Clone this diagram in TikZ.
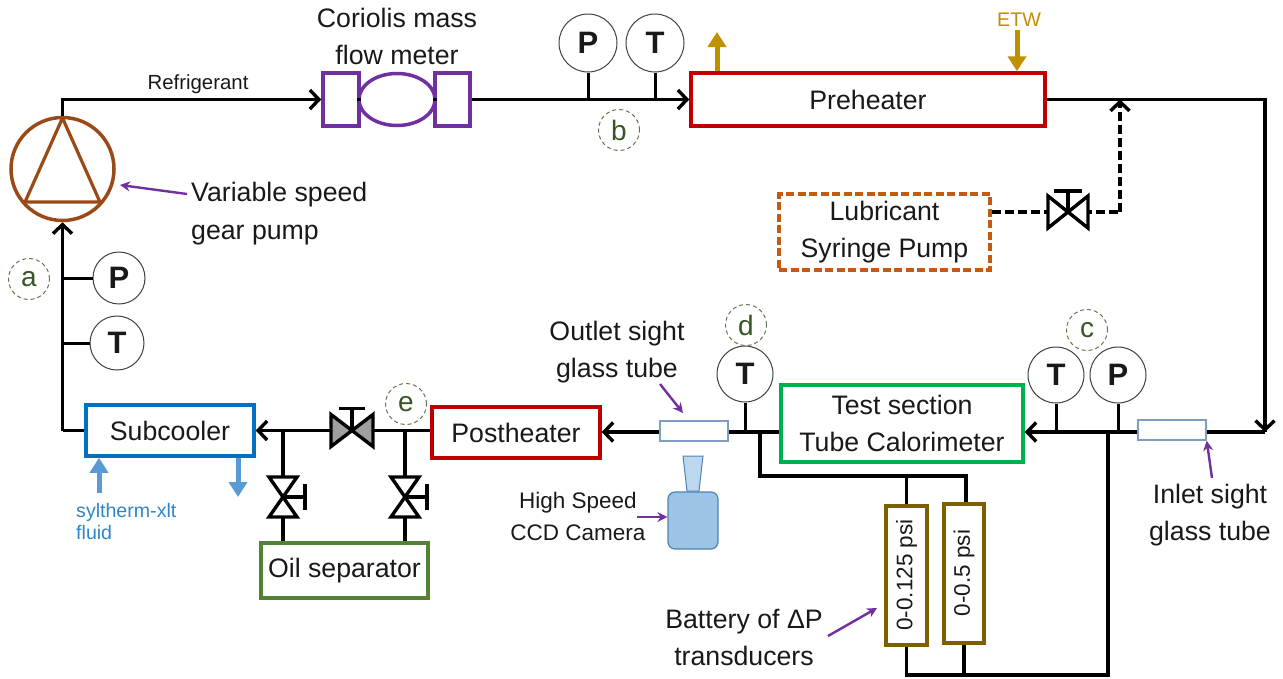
\documentclass[tikz,border=0pt]{standalone}
\usepackage{fontspec}
\setmainfont{Liberation Sans}
\usetikzlibrary{arrows.meta,calc,shapes.geometric}
\definecolor{pumpc}{HTML}{9A4A16}
\definecolor{purp}{HTML}{7030A0}
\definecolor{heat}{HTML}{C00000}
\definecolor{gold}{HTML}{BF9000}
\definecolor{lub}{HTML}{C55A11}
\definecolor{tsg}{HTML}{00B050}
\definecolor{oilg}{HTML}{548235}
\definecolor{subb}{HTML}{0070C0}
\definecolor{flu}{HTML}{5B9BD5}
\definecolor{flt}{HTML}{2E86C8}
\definecolor{brn}{HTML}{7F6000}
\definecolor{tag}{HTML}{375623}
\definecolor{tubeb}{HTML}{7F9DBF}
\tikzset{
 every node/.style={font=\fontsize{26.7}{28}\selectfont,text=black!90,align=center,inner sep=0pt},
 bx/.style={draw,line width=3.5pt,fill=white,minimum width=#1,rectangle},
 pipe/.style={line width=3.8pt,black,line join=miter},
 stem/.style={line width=3pt,black},
 arr/.style={pipe,-{Straight Barb[length=9pt,width=19pt,line width=3.4pt]}},
 darr/.style={arr,dash pattern=on 9pt off 4pt},
 dpipe/.style={pipe,dash pattern=on 9pt off 4pt},
 call/.style={line width=2.4pt,purp,-{Stealth[length=10pt,width=10pt]}},
 fat/.style={line width=5pt,-{Triangle[length=15pt,width=18pt]}},
 gauge/.style={circle,draw=black!75,line width=1pt,fill=white,minimum size=#1,font=\fontsize{31}{32}\selectfont\bfseries},
 tagc/.style={circle,draw=tag!80,dash pattern=on 4pt off 3pt,line width=1pt,minimum size=41pt,text=tag,font=\fontsize{28}{28}\selectfont},
 sight/.style={rectangle,draw=tubeb,line width=1.5pt,fill=white,minimum width=68pt,minimum height=20pt},
 vlv/.style={line width=3.4pt,black,line join=miter},
}
\begin{document}
\begin{tikzpicture}[x=1pt,y=-1pt]
\useasboundingbox (0,0) rectangle (1283,678);
\coordinate (pumpTurn) at (62.5,99.5);
\coordinate (upTurn) at (1265,99.5);
\coordinate (rightCorner) at (1265,432);
\coordinate (lubJoin) at (1120,99.5);
\coordinate (lubCorner) at (1120,212);
\coordinate (v1) at (1068,212);
\coordinate (v2) at (352,430.5);
\coordinate (v3) at (283,497);
\coordinate (v4) at (405,497);
\coordinate (subTurn) at (62.5,430.5);
\coordinate (j1) at (283,430.5);
\coordinate (j2) at (405,430.5);
\coordinate (jb) at (1108,432);
\coordinate (jbb) at (1108,675);
\coordinate (jt) at (760,432);
\coordinate (jtt) at (760,476);
\coordinate (jt2) at (966,476);

% components
\node[circle,draw=pumpc,line width=3.5pt,minimum size=103pt,fill=white] (pump) at (62.5,169) {};
\draw[pumpc,line width=3.2pt,line join=round] (62.5,118) -- (25,202) -- (100,202) -- cycle;
\node[bx=36pt,draw=purp,minimum height=53pt] (cl) at (341,99.5) {};
\node[bx=35pt,draw=purp,minimum height=53pt] (cr) at (452.5,99.5) {};
\node[ellipse,draw=purp,line width=3.5pt,minimum width=76pt,minimum height=52pt] (cm) at (397,99.5) {};
\node[bx=354pt,draw=heat,minimum height=53pt] (pre) at (868,99.5) {Preheater};
\node[bx=211pt,draw=lub,dash pattern=on 8pt off 3.5pt,minimum height=76pt] (lubp) at (884.5,232) {Lubricant\\[9pt]Syringe Pump};
\node[bx=242pt,draw=tsg,minimum height=77pt] (ts) at (902,423.5) {Test section\\[9pt]Tube Calorimeter};
\node[bx=168pt,draw=heat,minimum height=51pt] (post) at (516,432.5) {Postheater};
\node[bx=168pt,draw=subb,minimum height=51pt] (sub) at (170,430.5) {Subcooler};
\node[bx=167pt,draw=oilg,minimum height=55pt] (oil) at (344.5,570.5) {Oil separator};
\node[bx=41pt,draw=brn,minimum height=139pt] (d1) at (906.5,575.5) {};
\node[bx=40pt,draw=brn,minimum height=139pt] (d2) at (964,573.5) {};
\node[rotate=90,font=\fontsize{22.5}{22}\selectfont] (d1t) at (906.5,575) {0-0.125 psi};
\node[rotate=90,font=\fontsize{22.5}{22}\selectfont] (d2t) at (964,573) {0-0.5 psi};

% gauges
\node[gauge=58pt] (Pb) at (588,43) {P};
\node[gauge=58pt] (Tb) at (655,43) {T};
\node[gauge=52pt] (Pa) at (119,278) {P};
\node[gauge=54pt] (Ta) at (117,343) {T};
\node[gauge=56pt] (Td) at (745,374) {T};
\node[gauge=56pt] (Tc) at (1056,375) {T};
\node[gauge=56pt] (Pc) at (1118,375) {P};
\node[tagc] (ta) at (29,279) {a};
\node[tagc] (tb) at (619,130) {b};
\node[tagc] (tc) at (1087,330) {c};
\node[tagc] (td) at (746,325) {d};
\node[tagc] (te) at (406,404) {e};

% connectors
\draw[arr] (pump.north) -- (pumpTurn) -- (cl.west);
\draw[arr] (cr.east) -- (pre.west);
\draw[pipe] (cl.east) -- (cm.west) (cm.east) -- (cr.west);
\draw[pipe] (pre.east) -- (upTurn) -- (rightCorner);
\draw[arr] (upTurn) -- (rightCorner);
\draw[arr] (rightCorner) -- (ts.east |- rightCorner);
\draw[arr] (ts.west |- rightCorner) -- (post.east |- rightCorner);
\draw[pipe] (post.west |- v2) -- (v2);
\draw[arr] (v2) -- (sub.east |- v2);
\draw[pipe] (sub.west |- subTurn) -- (subTurn);
\draw[arr] (subTurn) -- (pump.south);
\draw[dpipe] (lubp.east |- lubCorner) -- (v1) -- (lubCorner);
\draw[darr] (lubCorner) -- (lubJoin);
\foreach \g in {Pb,Tb}{\draw[stem] (\g.south) -- (\g.south |- pumpTurn);}
\draw[stem] (Pa.west) -- (Pa.west -| subTurn);
\draw[stem] (Ta.west) -- (Ta.west -| subTurn);
\draw[stem] (Td.south) -- (Td.south |- rightCorner);
\draw[stem] (Tc.south) -- (Tc.south |- rightCorner);
\draw[stem] (Pc.south) -- (Pc.south |- rightCorner);
\draw[pipe] (jb) -- (jbb) -- (d1.south |- jbb) -- (d1.south);
\draw[pipe] (d2.south) -- (d2.south |- jbb);
\draw[pipe] (jt) -- (jtt) -- (jt2) -- (d2.north -| jt2);
\draw[pipe] (d1.north) -- (d1.north |- jt2);
\draw[pipe] (j1) -- (v3) -- (v3 |- oil.north);
\draw[pipe] (j2) -- (v4) -- (v4 |- oil.north);

% sight tubes
\node[sight] (in) at (1172,430) {};
\node[sight] (out) at (694,431) {};

% valves
\draw[vlv,fill=white] ($(v1)+(-20,-16)$) -- ($(v1)+(20,16)$) -- ($(v1)+(20,-16)$) -- ($(v1)+(-20,16)$) -- cycle;
\draw[vlv] (v1) -- ++(0,-21) ++(-14,0) -- ++(28,0);
\draw[vlv,fill=gray!75] ($(v2)+(-21,-16)$) -- ($(v2)+(21,16)$) -- ($(v2)+(21,-16)$) -- ($(v2)+(-21,16)$) -- cycle;
\draw[vlv] (v2) -- ++(0,-22) ++(-13,0) -- ++(26,0);
\foreach \v in {v3,v4}{
 \draw[vlv,fill=white] ($(\v)+(-14,-20)$) -- ($(\v)+(14,20)$) -- ($(\v)+(-14,20)$) -- ($(\v)+(14,-20)$) -- cycle;
 \draw[vlv] (\v) -- ++(22,0) ++(0,-13) -- ++(0,26);
}

% utility arrows
\coordinate (g1) at (717,32);
\coordinate (g2) at (1017,30);
\coordinate (b1) at (99,493);
\coordinate (b2) at (238,497);
\draw[fat,gold] (pre.north -| g1) -- (g1);
\draw[fat,gold] (g2) -- (pre.north -| g2);
\draw[fat,flu] (b1) -- (sub.south -| b1);
\draw[fat,flu] (sub.south -| b2) -- (b2);

% camera
\node[rectangle,draw=flu!85!black,fill=flu!60,line width=1.2pt,rounded corners=7pt,minimum width=50pt,minimum height=57pt] (cam) at (693,520.5) {};
\draw[draw=flu!85!black,fill=flu!40,line width=1pt] (683,456) -- (703,456) -- (699,491) -- (687,491) -- cycle;

% labels
\node[font=\fontsize{20.4}{22}\selectfont] (lref) at (198,84) {Refrigerant};
\node (lcor) at (397,36.5) {Coriolis mass\\[9pt]flow meter};
\node[align=left,anchor=west] (lvar) at (191,214) {Variable speed\\[10pt]gear pump};
\node[font=\fontsize{19.7}{22}\selectfont,text=gold] (letw) at (1019,20) {ETW};
\node (lout) at (617,352) {Outlet sight\\[9pt]glass tube};
\node (lin) at (1210,515) {Inlet sight\\[9pt]glass tube};
\node[font=\fontsize{22.5}{24}\selectfont] (lcam) at (578,516.5) {High Speed\\[8pt]CCD Camera};
\node (lbat) at (744,637) {Battery of ΔP\\[9pt]transducers};
\node[align=left,anchor=west,text=flt,font=\fontsize{19.6}{22}\selectfont] (lsyl) at (76,521) {syltherm-xlt\\fluid};
\path (lvar.west) ++(-4,-20) coordinate (cv);
\draw[call] (cv) -- (120,185);
\coordinate (co) at (660,384);
\coordinate (ce) at (683,413);
\draw[call] (co) -- (ce);
\coordinate (ci) at (1212,478);
\draw[call] (ci) -- (in.south east);
\coordinate (cc) at (637,517);
\draw[call] (cc) -- (cam.west |- cc);
\coordinate (cb) at (828,636);
\draw[call] (cb) -- (877,608);
\end{tikzpicture}
\end{document}
